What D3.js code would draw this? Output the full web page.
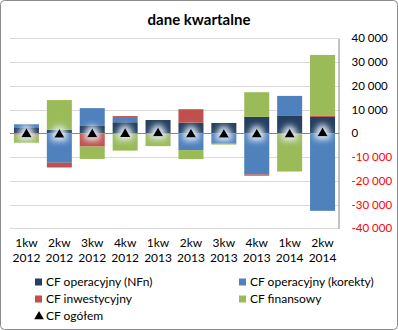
<!DOCTYPE html>
<html>
<head>
<meta charset="utf-8">
<script src="https://cdn.jsdelivr.net/npm/d3@7/dist/d3.min.js"></script>
<style>
  html, body { margin: 0; padding: 0; background: #fff; }
  svg { display: block; font-family: Lato, "Open Sans", sans-serif; }
</style>
</head>
<body>
<svg id="chart" width="398" height="330"></svg>
<script>
// Quarterly cash-flow components (thousand PLN)
const quarters = ["1kw 2012", "2kw 2012", "3kw 2012", "4kw 2012", "1kw 2013",
                  "2kw 2013", "3kw 2013", "4kw 2013", "1kw 2014", "2kw 2014"];
const cfOperNFn     = [2530, 1500, 3100, 4650, 5600, 4500, 4350, 6900, 7300, 6900];
const cfOperKorekty = [1270, -12400, 7500, 2200, -200, -7050, -4200, -17300, 8450, -32650];
const cfInwest      = [-600, -2000, -5600, 400, -300, 5650, -250, -550, -400, 400];
const cfFinans      = [-3370, 12500, -5200, -7300, -4900, -3800, -300, 10400, -15700, 25700];
const cfOgolem      = [-170, -400, -200, -50, 200, -300, -400, -300, -300, 200];
const yTicks = [40000, 30000, 20000, 10000, 0, -10000, -20000, -30000, -40000];

const seriesNames  = ["CF operacyjny (NFn)", "CF operacyjny (korekty)", "CF inwestycyjny", "CF finansowy"];
const seriesColors = ["#243F60", "#4F81BD", "#C0504D", "#9BBB59"];
const seriesValues = [cfOperNFn, cfOperKorekty, cfInwest, cfFinans];

const svg = d3.select("#chart");

// outer frame
svg.append("rect")
  .attr("x", 0.5).attr("y", 0.5).attr("width", 397).attr("height", 329)
  .attr("rx", 4).attr("fill", "#fff").attr("stroke", "#8C8C8C");

// soft halo drawn behind the total markers
const defs = svg.append("defs");
const glow = defs.append("filter").attr("id", "glow")
  .attr("x", "-150%").attr("y", "-150%").attr("width", "400%").attr("height", "400%");
glow.append("feMorphology").attr("in", "SourceAlpha").attr("operator", "dilate").attr("radius", 3).attr("result", "d");
glow.append("feGaussianBlur").attr("in", "d").attr("stdDeviation", 3).attr("result", "b");
glow.append("feFlood").attr("flood-color", "#E4EEF8").attr("flood-opacity", 1);
glow.append("feComposite").attr("in2", "b").attr("operator", "in").attr("result", "g");
const merge = glow.append("feMerge");
merge.append("feMergeNode").attr("in", "g");
merge.append("feMergeNode").attr("in", "SourceGraphic");

const plot = { left: 10, right: 339, top: 38.3, bottom: 228.3 };

const x = d3.scaleBand().domain(quarters).range([plot.left, plot.right])
  .paddingInner(0.24).paddingOuter(0.12);
const y = d3.scaleLinear().domain([-40000, 40000]).range([plot.bottom, plot.top]);

// title
svg.append("text").attr("x", 199).attr("y", 25).attr("text-anchor", "middle")
  .attr("font-size", 15).attr("font-weight", "bold").attr("fill", "#000")
  .text("dane kwartalne");

// gridlines
svg.append("g").selectAll("line").data(yTicks.filter(d => d !== 0)).join("line")
  .attr("x1", plot.left).attr("x2", plot.right)
  .attr("y1", d => Math.round(y(d)) + 0.5).attr("y2", d => Math.round(y(d)) + 0.5)
  .attr("stroke", "#D9D9D9").attr("stroke-width", 1);

// stacked bars: positives stack upward, negatives downward from zero
const rows = quarters.map((q, i) => {
  let pos = 0, neg = 0;
  return seriesValues.map((vals, s) => {
    const v = vals[i];
    let y0, y1;
    if (v >= 0) { y0 = pos; y1 = pos + v; pos = y1; }
    else { y0 = neg; y1 = neg + v; neg = y1; }
    return { q, s, y0, y1 };
  });
}).flat();

svg.append("g").selectAll("rect").data(rows).join("rect")
  .attr("x", d => x(d.q)).attr("width", x.bandwidth())
  .attr("y", d => y(Math.max(d.y0, d.y1)))
  .attr("height", d => Math.abs(y(d.y0) - y(d.y1)))
  .attr("fill", d => seriesColors[d.s]);

// category axis line at zero
svg.append("line").attr("x1", plot.left).attr("x2", plot.right)
  .attr("y1", Math.round(y(0)) + 0.5).attr("y2", Math.round(y(0)) + 0.5)
  .attr("stroke", "#868686").attr("stroke-width", 1);

// right value axis
const yAxis = d3.axisRight(y).tickValues(yTicks).tickSize(0).tickPadding(13)
  .tickFormat(d => d3.format(",")(d).replace(/,/g, " ").replace("−", "-"));
const ya = svg.append("g").attr("transform", `translate(${plot.right - 0.5},0)`).call(yAxis);
ya.select(".domain").attr("stroke", "#868686");
ya.selectAll("text").attr("font-size", 11.5).attr("font-family", "Lato, sans-serif")
  .attr("fill", d => d < 0 ? "#FF0000" : "#000");

// category labels (two lines)
const xl = svg.append("g").selectAll("text").data(quarters).join("text")
  .attr("text-anchor", "middle").attr("font-size", 12).attr("fill", "#000");
xl.append("tspan").attr("x", d => x(d) + x.bandwidth() / 2).attr("y", 247).text(d => d.split(" ")[0]);
xl.append("tspan").attr("x", d => x(d) + x.bandwidth() / 2).attr("y", 262).text(d => d.split(" ")[1]);

// total markers
const tri = d3.symbol().type(d3.symbolTriangle).size(48);
svg.append("g").selectAll("path").data(cfOgolem).join("path")
  .attr("d", tri)
  .attr("transform", (d, i) => `translate(${x(quarters[i]) + x.bandwidth() / 2},${y(d) + 0.5})`)
  .attr("fill", "#000").attr("filter", "url(#glow)");

// legend
const legendItems = [
  { name: seriesNames[0], color: seriesColors[0], x: 35, y: 282 },
  { name: seriesNames[1], color: seriesColors[1], x: 239, y: 282 },
  { name: seriesNames[2], color: seriesColors[2], x: 35, y: 299 },
  { name: seriesNames[3], color: seriesColors[3], x: 239, y: 299 }
];
const lg = svg.append("g").selectAll("g").data(legendItems).join("g")
  .attr("transform", d => `translate(${d.x},${d.y})`);
lg.append("rect").attr("x", 0).attr("y", -3.5).attr("width", 7).attr("height", 7).attr("fill", d => d.color);
lg.append("text").attr("x", 11).attr("y", 4).attr("font-size", 12).attr("fill", "#000").text(d => d.name);

const lt = svg.append("g").attr("transform", "translate(35,316)");
lt.append("path").attr("d", d3.symbol().type(d3.symbolTriangle).size(40)).attr("transform", "translate(4,0.5)").attr("fill", "#000");
lt.append("text").attr("x", 11).attr("y", 4).attr("font-size", 12).attr("fill", "#000").text("CF ogółem");
</script>
</body>
</html>
